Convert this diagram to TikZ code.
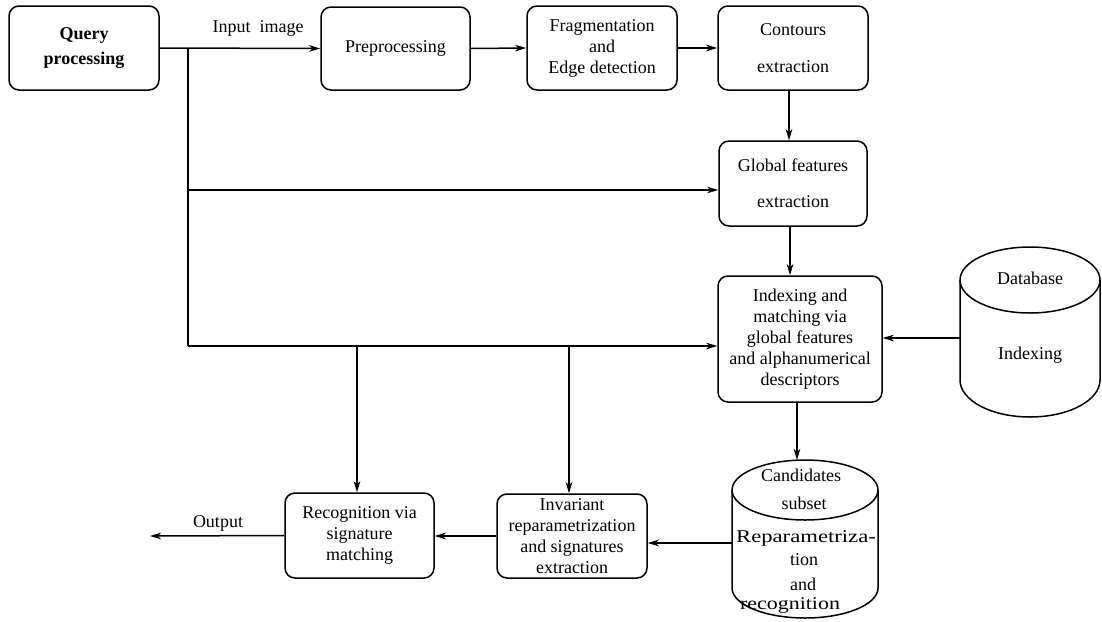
\documentclass[tikz,border=0pt]{standalone}
\usepackage{fontspec}
\setmainfont{Liberation Serif}
\usetikzlibrary{arrows.meta}
\begin{document}
\begin{tikzpicture}[x=1pt,y=-1pt,
  box/.style={draw,rounded corners=10pt,line width=1.5pt,inner sep=0pt,align=center,
    font=\fontsize{18}{21}\selectfont},
  lbl/.style={inner sep=0pt,font=\fontsize{18}{21}\selectfont},
  ln/.style={line width=1.5pt},
  arr/.style={line width=1.5pt,-{Stealth[length=11pt,width=6.5pt,inset=3pt]}}]
\useasboundingbox (0,0) rectangle (1102,621);
% boxes
\node[box,minimum width=150pt,minimum height=84pt,font=\bfseries\fontsize{18}{21}\selectfont] (qp) at (84,48) {Query\\[4pt]processing};
\node[box,minimum width=149pt,minimum height=83pt] (pre) at (395.5,48.5) {Preprocessing};
\node[box,minimum width=150pt,minimum height=84pt] (frag) at (602,48) {Fragmentation\\and\\Edge detection};
\node[box,minimum width=150pt,minimum height=84pt] (cont) at (793,48) {Contours\\[16pt]extraction};
\node[box,minimum width=148pt,minimum height=85pt] (glob) at (793,183.5) {Global features\\[15pt]extraction};
\node[box,minimum width=164pt,minimum height=126pt] (idx) at (800,339) {Indexing and\\matching via\\global features\\and alphanumerical\\descriptors};
\node[box,minimum width=149pt,minimum height=85pt] (rec) at (359.5,535.5) {Recognition via\\signature\\matching};
\node[box,minimum width=150pt,minimum height=84pt] (inv) at (572,536) {Invariant\\reparametrization\\and signatures\\extraction};
% database cylinder
\draw[ln] (960,280) -- (960,380) arc[start angle=180,end angle=0,x radius=70,y radius=37] -- (1100,280);
\draw[ln] (1030,280) ellipse[x radius=70,y radius=33];
\node[lbl] (db1) at (1030,278) {Database};
\node[lbl] (db2) at (1030,355) {Indexing};
% candidates cylinder
\draw[ln] (732,490) -- (732,588) arc[start angle=180,end angle=0,x radius=73,y radius=30] -- (878,490);
\draw[ln] (805,490) ellipse[x radius=73,y radius=30];
\node[lbl] (c1) at (801,475) {Candidates};
\node[lbl] (c2) at (804,503) {subset};
\node[lbl] (c3) at (806,538) {\scalebox{1.26}[1]{Reparametriza-}};
\node[lbl] (c4) at (804,560) {tion};
\node[lbl] (c5) at (803,584) {and};
\node[lbl] (c6) at (790,605) {\scalebox{1.22}[1]{recognition}};
% labels
\node[lbl] (lin) at (258,28) {Input\ \ image};
\node[lbl] (lout) at (218,523) {Output};
% coordinates
\coordinate (jtop) at (188,48);
\coordinate (jbot) at (188,346);
\coordinate (jg) at (188,190);
\coordinate (b1) at (357,346);
\coordinate (b2) at (569,346);
\coordinate (candtop) at (797,460);
\coordinate (dbin) at (960,338);
\coordinate (candin) at (732,543);
\coordinate (out) at (150,536);
% connectors
\draw[arr] (qp.east) -- (pre.west);
\draw[arr] (pre.east) -- (frag.west);
\draw[arr] (frag.east) -- (cont.west);
\draw[arr] ([xshift=-4pt]cont.south) -- ([xshift=-4pt]cont.south |- glob.north);
\draw[arr] ([xshift=-3pt]glob.south) -- ([xshift=-3pt]glob.south |- idx.north);
\draw[ln] (jtop) -- (jbot);
\draw[arr] (jg) -- (glob.west |- jg);
\draw[arr] (jbot) -- (idx.west |- jbot);
\draw[arr] (b1) -- (rec.north -| b1);
\draw[arr] (b2) -- (inv.north -| b2);
\draw[arr] (dbin) -- (idx.east |- dbin);
\draw[arr] (idx.south -| candtop) -- (candtop);
\draw[arr] (candin) -- (inv.east |- candin);
\draw[arr] (inv.west) -- (rec.east |- inv.west);
\draw[arr] (rec.west) -- (out);
\end{tikzpicture}
\end{document}
